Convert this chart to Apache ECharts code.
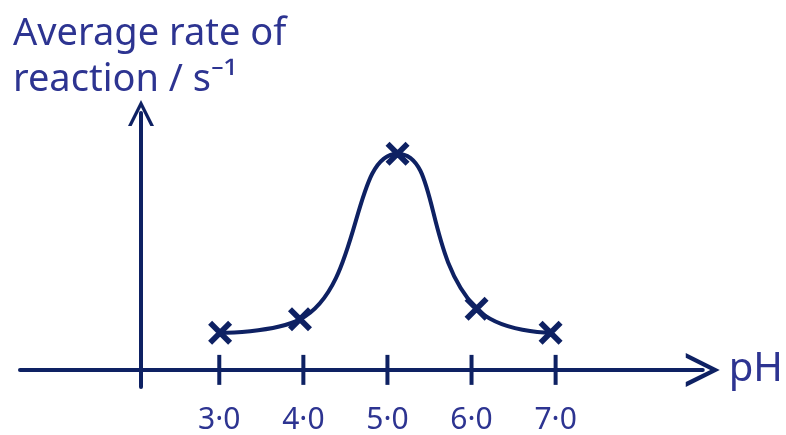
<!DOCTYPE html>
<html>
<head>
<meta charset="utf-8">
<script src="https://cdn.jsdelivr.net/npm/echarts@6/dist/echarts.min.js"></script>
<style>
  html, body { margin: 0; padding: 0; background: #fff; }
  #chart { width: 786px; height: 435px; }
</style>
</head>
<body>
<div id="chart"></div>
<script>
// tick positions on the pH axis and their labels
var tickPh = [3.0, 4.0, 5.0, 6.0, 7.0];
var tickLabels = ['3·0', '4·0', '5·0', '6·0', '7·0'];
// measured points (crosses)
var pointPh = [3.01, 3.96, 5.12, 6.06, 6.94];
var rate = [1.73, 2.36, 10.1, 2.86, 1.73];

var ink = '#0e2163';
var pen = '#2d3491';
var chevron = 'path://M0,10 L5,0 L10,10 L8.6,10 L5,2.8 L1.4,10 Z';
var cross = 'path://M0,2 L2,0 L12,10 L10,12 Z M2,12 L0,10 L10,0 L12,2 Z';

var points = [];
for (var i = 0; i < pointPh.length; i++) {
    points.push([pointPh[i], rate[i]]);
}
var ticks = [];
for (var j = 0; j < tickPh.length; j++) {
    ticks.push([tickPh[j], 0]);
}

var chart = echarts.init(document.getElementById('chart'));
chart.setOption({
    animation: false,
    backgroundColor: '#fff',
    title: {
        text: 'Average rate of\nreaction / s⁻¹',
        left: 8,
        top: 6,
        textStyle: {
            color: pen,
            fontFamily: 'Noto Sans',
            fontWeight: 'normal',
            fontSize: 38,
            lineHeight: 46
        }
    },
    grid: { left: 20, right: 78, top: 113, bottom: 40 },
    xAxis: {
        type: 'value',
        min: 0.63,
        max: 8.75,
        name: 'pH',
        nameLocation: 'end',
        nameGap: 26,
        nameTextStyle: { color: pen, fontSize: 40, fontFamily: 'Noto Sans', verticalAlign: 'middle' },
        axisLine: {
            onZero: true,
            symbol: ['none', chevron],
            symbolSize: [52, 34],
            lineStyle: { color: ink, width: 4 }
        },
        axisTick: { show: false },
        splitLine: { show: false },
        axisLabel: {
            customValues: tickPh,
            margin: 18,
            color: pen,
            fontSize: 30,
            fontFamily: 'Noto Sans',
            formatter: function (v) {
                var k = tickPh.indexOf(v);
                return k >= 0 ? tickLabels[k] : '';
            }
        }
    },
    yAxis: {
        type: 'value',
        min: -0.8,
        max: 12,
        offset: -121,
        axisLine: {
            show: true,
            onZero: false,
            symbol: ['none', chevron],
            symbolSize: [38, 26],
            lineStyle: { color: ink, width: 4 }
        },
        axisTick: { show: false },
        axisLabel: { show: false },
        splitLine: { show: false }
    },
    series: [
        {
            type: 'scatter',
            data: ticks,
            symbol: 'rect',
            symbolSize: [4, 30],
            itemStyle: { color: ink, opacity: 1 },
            silent: true,
            z: 3
        },
        {
            type: 'line',
            data: points,
            smooth: 0.5,
            symbol: cross,
            symbolSize: 24,
            showAllSymbol: true,
            lineStyle: { color: ink, width: 4 },
            itemStyle: { color: ink },
            z: 4
        }
    ]
});
</script>
</body>
</html>
